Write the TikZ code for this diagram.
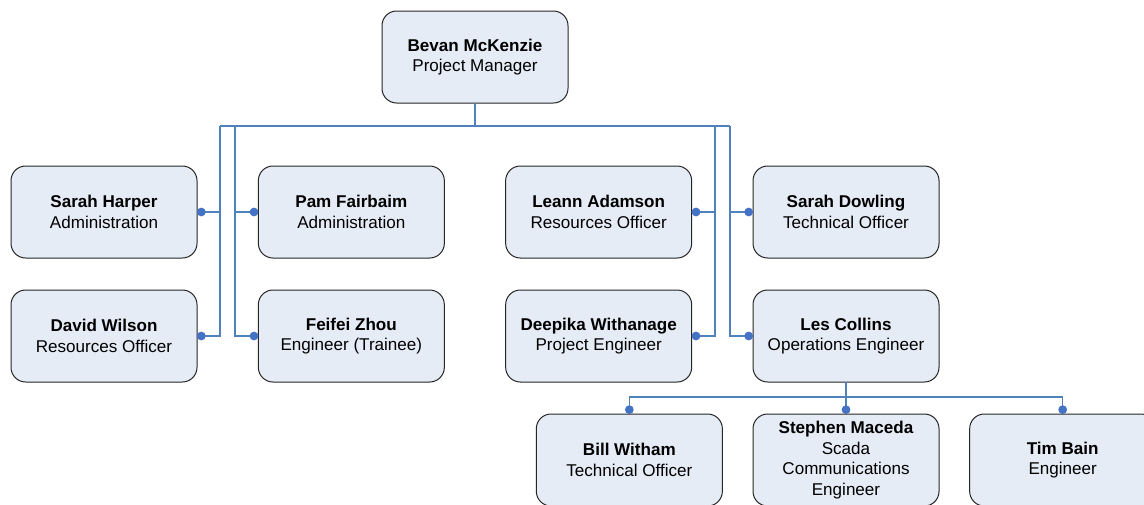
\documentclass[tikz,border=0pt]{standalone}
\usepackage{fontspec}
\setmainfont{Liberation Sans}
\usetikzlibrary{positioning,arrows.meta}

\definecolor{boxfill}{RGB}{230,236,246}
\definecolor{linkblue}{RGB}{79,129,189}
\definecolor{dotblue}{RGB}{68,114,196}

\tikzset{
  person/.style={draw=black!85, line width=0.75pt, fill=boxfill, rounded corners=11pt,
    minimum width=139.5pt, minimum height=69pt, inner sep=2pt, outer sep=0pt,
    align=center, font=\fontsize{12.8}{15.3}\selectfont},
  link/.style={draw=linkblue, line width=1pt},
  dotlink/.style={link, -{Circle[length=6.5pt,fill=dotblue,color=dotblue]}}
}

\begin{document}
\begin{tikzpicture}[x=0.75pt,y=-0.75pt]
  \useasboundingbox (0,0) rectangle (1144,504);

  \node[person] (pm) at (475,57) {\textbf{Bevan McKenzie}\\Project Manager};
  \node[person] (harper) at (104,212) {\textbf{Sarah Harper}\\Administration};
  \node[person] (pam) [right=46pt of harper] {\textbf{Pam Fairbaim}\\Administration};
  \node[person] (leann) [right=46pt of pam] {\textbf{Leann Adamson}\\Resources Officer};
  \node[person] (dowling) [right=46pt of leann] {\textbf{Sarah Dowling}\\Technical Officer};
  \node[person] (wilson) [below=24pt of harper] {\textbf{David Wilson}\\Resources Officer};
  \node[person] (feifei) [below=24pt of pam] {\textbf{Feifei Zhou}\\Engineer (Trainee)};
  \node[person] (deepika) [below=24pt of leann] {\textbf{Deepika Withanage}\\Project Engineer};
  \node[person] (les) [below=24pt of dowling] {\textbf{Les Collins}\\Operations Engineer};
  \node[person] (stephen) [below=24pt of les] {\textbf{Stephen Maceda}\\Scada\\Communications\\Engineer};
  \node[person] (bill) [left=23pt of stephen] {\textbf{Bill Witham}\\Technical Officer};
  \node[person] (tim) [right=23pt of stephen] {\textbf{Tim Bain}\\Engineer};

  \coordinate (bus) at (475,126);
  \coordinate (busa) at (220,126);
  \coordinate (busb) at (235,126);
  \coordinate (busc) at (715,126);
  \coordinate (busd) at (730,126);
  \coordinate (sub) at (846,397);

  \path[link] (pm.south) -- (bus);
  \path[link] (busa) -- (busd);
  \path[dotlink] (busa) |- (harper.east);
  \path[dotlink] (busa) |- (wilson.east);
  \path[dotlink] (busb) |- (pam.west);
  \path[dotlink] (busb) |- (feifei.west);
  \path[dotlink] (busc) |- (leann.east);
  \path[dotlink] (busc) |- (deepika.east);
  \path[dotlink] (busd) |- (dowling.west);
  \path[dotlink] (busd) |- (les.west);

  \path[link] (les.south) -- (sub);
  \path[dotlink] (sub) -| (bill.north);
  \path[dotlink] (sub) -- (stephen.north);
  \path[dotlink] (sub) -| (tim.north);

\end{tikzpicture}
\end{document}
